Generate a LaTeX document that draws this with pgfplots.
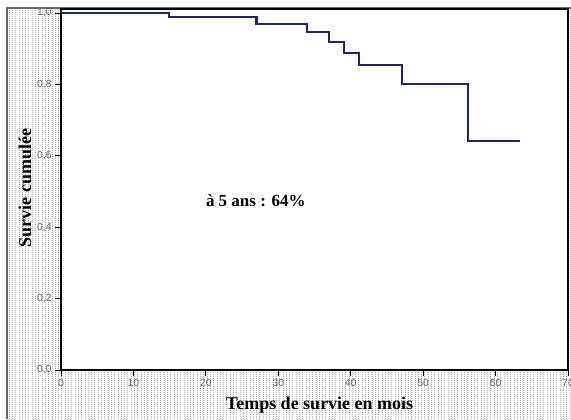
\documentclass[border=0pt]{standalone}
\usepackage{fontspec}
\setmainfont{Liberation Serif}
\newfontfamily\arial{Liberation Sans}
\usepackage{pgfplots}
\pgfplotsset{compat=1.18}
\definecolor{kmblue}{RGB}{28,36,120}
\definecolor{tickgray}{RGB}{100,100,100}

\begin{document}
\begin{tikzpicture}[x=0.75pt,y=0.75pt]
  % page = 571 x 419 px, y upward (1 px = 0.75 pt)
  \useasboundingbox (0,0) rectangle (571,419);
  % dotted background of the chart frame
  \foreach \i in {9,12.3,...,571}
    \draw[gray!65, line width=0.5pt, dash pattern=on 0.6pt off 0.9pt] (\i,0) -- (\i,411);
  \draw[gray!80!black, line width=0.8pt] (7,0) -- (7,411) -- (571,411);

  \begin{axis}[
    at={(45.75pt,36.75pt)}, anchor=south west,
    scale only axis,
    width=380.25pt, height=270.75pt,
    xmin=0, xmax=70, ymin=0, ymax=1.011,
    xtick={0,10,...,70},
    ytick={0,0.2,...,1.0},
    xtick pos=left, ytick pos=left,
    tick align=outside,
    major tick length=4.5pt,
    axis background/.style={fill=white},
    axis line style={black, line width=0.8pt},
    every tick/.style={black, line width=0.6pt},
    tick label style={font=\arial\fontsize{7.8}{9}\selectfont, text=tickgray},
    /pgf/number format/assume math mode=true,
    yticklabel style={/pgf/number format/fixed, /pgf/number format/fixed zerofill,
      /pgf/number format/precision=1, /pgf/number format/use comma, xshift=1pt},
    xticklabel style={yshift=1pt},
    xlabel={Temps de survie en mois},
    ylabel={Survie cumulée},
    label style={font=\bfseries\fontsize{13.5}{15}\selectfont},
    xlabel style={at={(axis description cs:0.51,-0.097)}, anchor=center},
    ylabel style={at={(axis description cs:-0.071,0.504)}, anchor=center},
    clip=false,
  ]
    \addplot[const plot, kmblue, line width=1.6pt] coordinates {
      (0,1.000) (14.9,0.988) (27.0,0.970) (34.0,0.946) (37.0,0.918)
      (39.1,0.887) (41.2,0.853) (47.1,0.800) (56.2,0.642) (63.4,0.642)
    };
    \node[font=\bfseries\fontsize{12.75}{15}\selectfont] at (axis cs:26.9,0.474) {à 5 ans : 64\%};
  \end{axis}
\end{tikzpicture}
\end{document}
